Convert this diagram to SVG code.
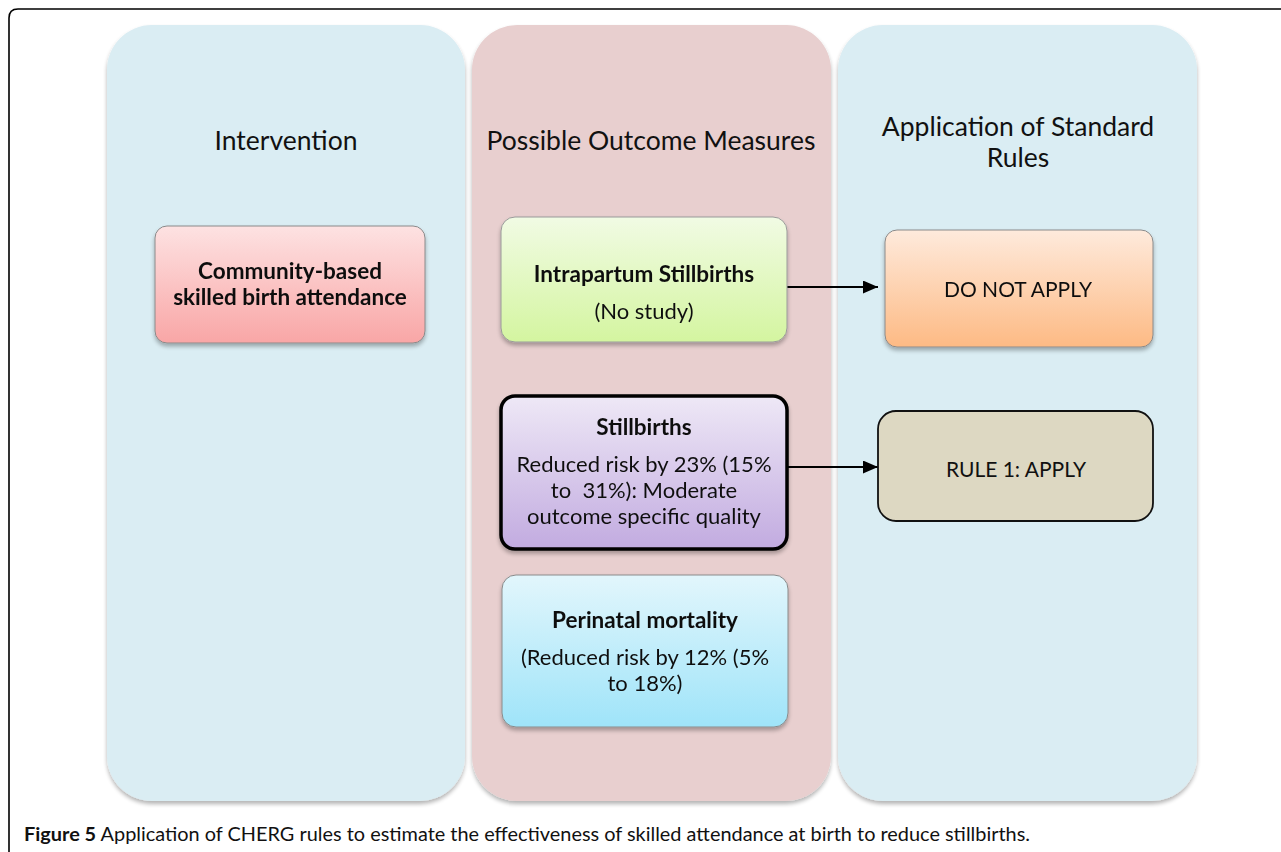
<svg xmlns="http://www.w3.org/2000/svg" width="1281" height="852" viewBox="0 0 1281 852">
<style>
  .hdr { font-family: Lato, "Open Sans", "Liberation Sans", sans-serif; font-size: 26.5px; fill: #111; text-anchor: middle; }
  .b { font-family: Lato, "Open Sans", "Liberation Sans", sans-serif; font-size: 22.5px; font-weight: bold; fill: #111; text-anchor: middle; }
  .t { font-family: Lato, "Open Sans", "Liberation Sans", sans-serif; font-size: 22px; fill: #111; text-anchor: middle; }
  .u { font-family: Lato, "Open Sans", "Liberation Sans", sans-serif; font-size: 21px; fill: #111; text-anchor: middle; }
  .col-blue { fill: #daedf3; }
  .col-pink { fill: #e8cfcf; }
  .conn { stroke: #000; stroke-width: 2; fill: none; }
</style>
<defs>
  <marker id="arr" viewBox="0 0 15 13" refX="15" refY="6.5" markerWidth="15" markerHeight="13" markerUnits="userSpaceOnUse" orient="auto">
    <path d="M0,0 L15,6.5 L0,13 z" fill="#000"/>
  </marker>
  <filter id="sh" x="-10%" y="-10%" width="120%" height="125%">
    <feGaussianBlur in="SourceAlpha" stdDeviation="2"/>
    <feOffset dx="0" dy="3" result="o"/>
    <feComponentTransfer><feFuncA type="linear" slope="0.3"/></feComponentTransfer>
    <feMerge><feMergeNode/><feMergeNode in="SourceGraphic"/></feMerge>
  </filter>
  <linearGradient id="gPink" x1="0" y1="0" x2="0" y2="1"><stop offset="0" stop-color="#fde2e2"/><stop offset="1" stop-color="#f9a6a6"/></linearGradient>
  <linearGradient id="gGreen" x1="0" y1="0" x2="0" y2="1"><stop offset="0" stop-color="#f1fbe4"/><stop offset="1" stop-color="#d4f5a0"/></linearGradient>
  <linearGradient id="gLav" x1="0" y1="0" x2="0" y2="1"><stop offset="0" stop-color="#eee8f6"/><stop offset="1" stop-color="#c2abe0"/></linearGradient>
  <linearGradient id="gCyan" x1="0" y1="0" x2="0" y2="1"><stop offset="0" stop-color="#e2f6fc"/><stop offset="1" stop-color="#9fe4f9"/></linearGradient>
  <linearGradient id="gOrange" x1="0" y1="0" x2="0" y2="1"><stop offset="0" stop-color="#feeadc"/><stop offset="1" stop-color="#fdba84"/></linearGradient>
</defs>
<rect width="1281" height="852" fill="#fff"/>
<path d="M9,852 L9,18 Q9,9 18,9 L1281,9" fill="none" stroke="#000" stroke-width="1.6"/>

<g id="columns" filter="url(#sh)">
  <rect id="col-intervention" class="col-blue" x="107" y="25" width="358" height="776" rx="45"/>
  <rect id="col-outcome" class="col-pink" x="472" y="25" width="359" height="776" rx="45"/>
  <rect id="col-rules" class="col-blue" x="838" y="25" width="359" height="776" rx="45"/>
</g>

<g id="headers">
  <text class="hdr" x="286" y="150">Intervention</text>
  <text class="hdr" x="651" y="150">Possible Outcome Measures</text>
  <text class="hdr" x="1018" y="136">Application of Standard</text>
  <text class="hdr" x="1018" y="167">Rules</text>
</g>

<g id="connectors">
  <line class="conn" x1="787" y1="287" x2="878" y2="287" marker-end="url(#arr)"/>
  <line class="conn" x1="788" y1="467" x2="878" y2="467" marker-end="url(#arr)"/>
</g>

<g id="node-intervention" filter="url(#sh)">
  <rect x="155" y="226" width="270" height="117" rx="12" fill="url(#gPink)" stroke="#8a8a8a" stroke-width="1"/>
  <text class="b" x="290" y="279">Community-based</text>
  <text class="b" x="290" y="305">skilled birth attendance</text>
</g>

<g id="node-intrapartum" filter="url(#sh)">
  <rect x="501" y="217" width="286" height="125" rx="14" fill="url(#gGreen)" stroke="#9a9a9a" stroke-width="1"/>
  <text class="b" x="644" y="282">Intrapartum Stillbirths</text>
  <text class="t" x="644" y="319">(No study)</text>
</g>

<g id="node-stillbirths" filter="url(#sh)">
  <rect x="501" y="396" width="286" height="153" rx="14" fill="url(#gLav)" stroke="#000" stroke-width="3.5"/>
  <text class="b" x="644" y="435">Stillbirths</text>
  <text class="t" x="644" y="472">Reduced risk by 23% (15%</text>
  <text class="t" x="644" y="498" xml:space="preserve">to  31%): Moderate</text>
  <text class="t" x="644" y="524">outcome specific quality</text>
</g>

<g id="node-perinatal" filter="url(#sh)">
  <rect x="502" y="575" width="286" height="152" rx="14" fill="url(#gCyan)" stroke="#8a8a8a" stroke-width="1"/>
  <text class="b" x="645" y="628">Perinatal mortality</text>
  <text class="t" x="645" y="665">(Reduced risk by 12% (5%</text>
  <text class="t" x="645" y="691">to 18%)</text>
</g>

<g id="node-donotapply" filter="url(#sh)">
  <rect x="885" y="230" width="268" height="117" rx="12" fill="url(#gOrange)" stroke="#8a8a8a" stroke-width="1"/>
  <text class="u" x="1018" y="297">DO NOT APPLY</text>
</g>

<g id="node-rule1">
  <rect x="878" y="411" width="275" height="110" rx="18" fill="#ddd8c2" stroke="#111" stroke-width="1.8"/>
  <text class="u" x="1016" y="477">RULE 1: APPLY</text>
</g>

<g id="caption">
  <text x="24" y="841" font-family="Lato, 'Open Sans', 'Liberation Sans', sans-serif" font-size="18.5" fill="#111" textLength="1006" lengthAdjust="spacingAndGlyphs"><tspan font-weight="bold">Figure 5</tspan> Application of CHERG rules to estimate the effectiveness of skilled attendance at birth to reduce stillbirths.</text>
</g>
</svg>
